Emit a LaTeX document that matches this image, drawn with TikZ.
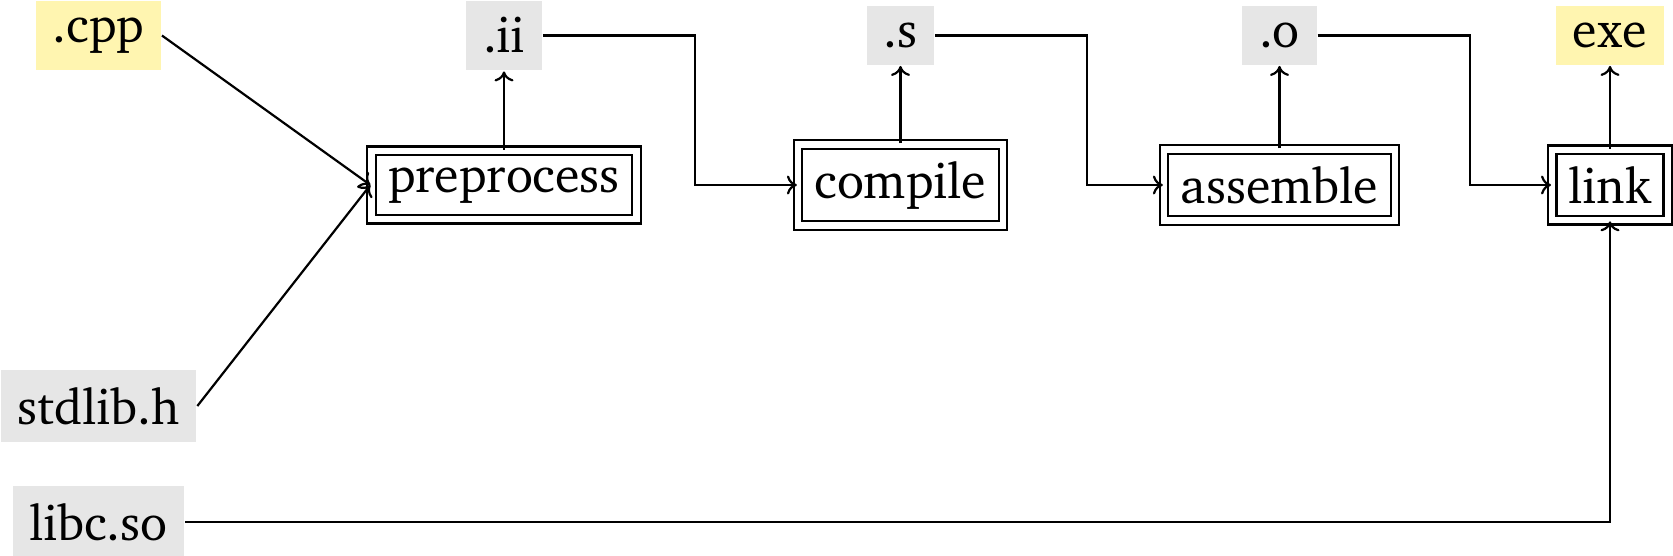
\documentclass[tikz,border=0pt]{standalone}
\usepackage[T1]{fontenc}
\usepackage{charter}
\usetikzlibrary{arrows.meta}
\definecolor{fileyellow}{RGB}{255,245,176}
\definecolor{filegray}{RGB}{230,230,230}
\begin{document}
\begin{tikzpicture}[x=1pt,y=-1pt,line width=2.2pt,
  every node/.style={font=\fontsize{50pt}{60pt}\selectfont, inner sep=16.7pt},
  srcfile/.style={fill=fileyellow},
  midfile/.style={fill=filegray},
  procbox/.style={draw, double, double distance=6.5pt, line width=2.2pt},
  flow/.style={-{Computer Modern Rightarrow[length=10pt,width=19pt]}}]
\useasboundingbox (0,0) rectangle (1673,555);
% file nodes
\node[srcfile] (cpp) at (98.5,35.5) {.cpp};
\node[midfile] (ii) at (504,35.5) {.ii};
\node[midfile] (s) at (900.5,35.5) {.s};
\node[midfile] (o) at (1279.5,35.5) {.o};
\node[srcfile] (exe) at (1610,35.5) {exe};
\node[midfile] (std) at (98.5,406) {stdlib.h};
\node[midfile] (libc) at (98.5,522) {libc.so};
% process nodes
\node[procbox] (pre) at (504,185) {preprocess};
\node[procbox] (cmp) at (900.5,185) {compile};
\node[procbox] (asm) at (1279.5,185) {assemble};
\node[procbox] (lnk) at (1610,185) {link};
% connectors
\draw[flow] (cpp.east) -- (pre.west);
\draw[flow] (std.east) -- (pre.west);
\draw[flow] (pre.north) -- (ii.south);
\draw[flow] (ii.east) -- ++(152,0) |- (cmp.west);
\draw[flow] (cmp.north) -- (s.south);
\draw[flow] (s.east) -- ++(152,0) |- (asm.west);
\draw[flow] (asm.north) -- (o.south);
\draw[flow] (o.east) -- ++(152,0) |- (lnk.west);
\draw[flow] (lnk.north) -- (exe.south);
\draw[flow] (libc.east) -| (lnk.south);
\end{tikzpicture}
\end{document}
